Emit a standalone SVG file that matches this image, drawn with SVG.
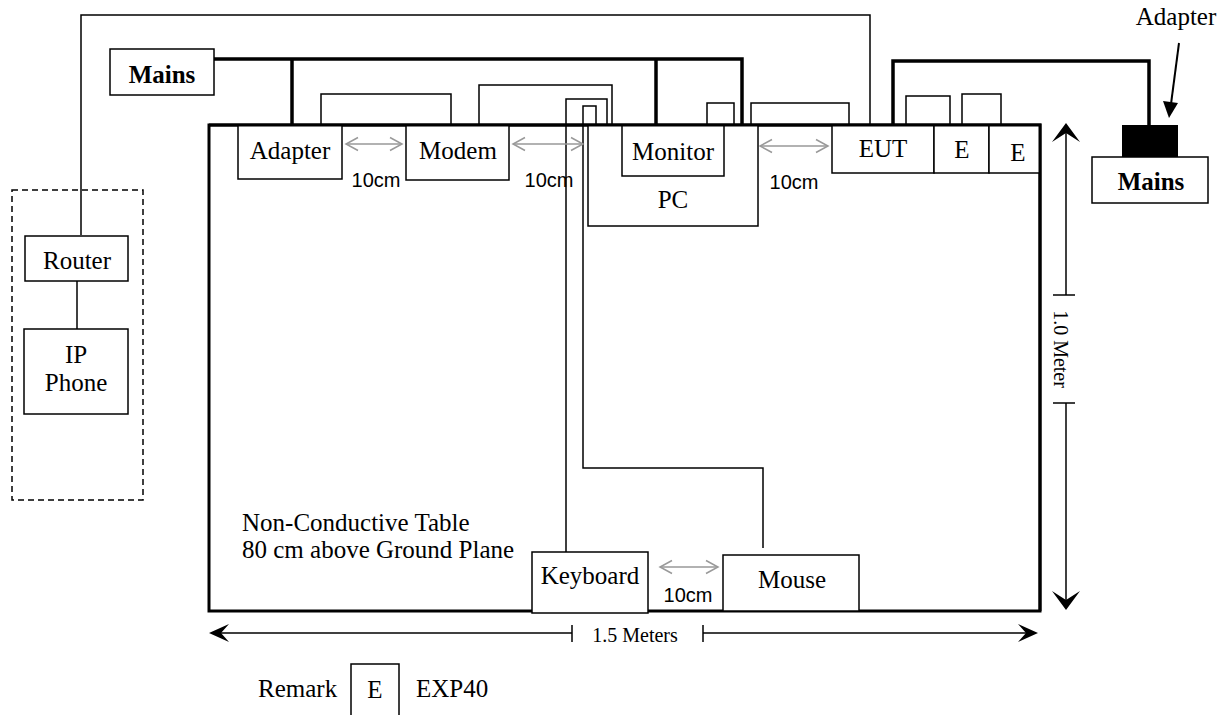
<svg xmlns="http://www.w3.org/2000/svg" width="1228" height="715" viewBox="0 0 1228 715">
<defs>
<style>
.box{fill:#fff;stroke:#000;stroke-width:1.5}
.t{font-family:"Liberation Serif","Times New Roman",serif;font-size:25px;fill:#000;text-anchor:middle}
.tb{font-family:"Liberation Serif","Times New Roman",serif;font-size:25px;font-weight:bold;fill:#000;text-anchor:middle}
.ts{font-family:"Liberation Serif","Times New Roman",serif;font-size:20px;fill:#000;text-anchor:middle}
.cm{font-family:"Liberation Sans",Arial,sans-serif;font-size:20px;fill:#000;text-anchor:middle}
.thin{fill:none;stroke:#000;stroke-width:1.5}
.thick{fill:none;stroke:#000;stroke-width:3.5}
.gray{fill:none;stroke:#999;stroke-width:1.5;marker-start:url(#ga);marker-end:url(#ga)}
</style>
<marker id="ga" viewBox="-14 -8 16 16" markerWidth="16" markerHeight="16" refX="0" refY="0" orient="auto-start-reverse" markerUnits="userSpaceOnUse">
<path d="M-12,-6.5 L0,0 L-12,6.5" fill="none" stroke="#999" stroke-width="1.5"/>
</marker>
</defs>

<g id="table">
<rect x="209" y="125" width="831" height="486" fill="#fff" stroke="#000" stroke-width="3"/>
<text class="t" x="242" y="531" style="text-anchor:start">Non-Conductive Table</text>
<text class="t" x="242" y="558" style="text-anchor:start">80 cm above Ground Plane</text>
</g>

<g id="connectors">
<polyline class="thin" points="81,235 81,15 299,15" stroke-width="2"/>
<polyline class="thin" points="299,15 870,15 870,125" stroke="#333"/>
<line class="thin" x1="77" y1="281" x2="77" y2="329"/>
<polyline class="thick" points="214,59 742,59 742,125"/>
<line class="thick" x1="292" y1="59" x2="292" y2="125"/>
<line class="thick" x1="656" y1="59" x2="656" y2="125"/>
<polyline class="thin" points="321,125 321,94 451,94 451,125"/>
<polyline class="thin" points="479,125 479,85 612,85 612,125"/>
<polyline class="thin" points="566,552 566,99 607,99 607,125"/>
<polyline class="thin" points="763,548 763,468 583,468 583,106 596,106 596,125"/>
<polyline class="thin" points="707,125 707,103 734,103 734,125"/>
<polyline class="thin" points="751,125 751,103 849,103 849,125"/>
<polyline class="thin" points="906,125 906,96 950,96 950,125"/>
<polyline class="thin" points="962,125 962,94 1001,94 1001,125"/>
<polyline class="thick" points="893,125 893,61 1149,61 1149,125"/>
<line class="gray" x1="346" y1="144" x2="402" y2="144"/>
<line class="gray" x1="513" y1="144" x2="583" y2="144"/>
<line class="gray" x1="760" y1="146" x2="828" y2="146"/>
<line class="gray" x1="660" y1="567" x2="718" y2="567"/>
<text class="cm" x="376" y="187">10cm</text>
<text class="cm" x="549" y="187">10cm</text>
<text class="cm" x="794" y="189">10cm</text>
<text class="cm" x="688" y="602">10cm</text>
<line x1="1179" y1="43" x2="1171" y2="104" stroke="#000" stroke-width="2"/>
<path d="M1169,118 L1163,101 L1178,103 Z" fill="#000"/>
</g>

<g id="dimensions">
<line x1="212" y1="633" x2="572" y2="633" stroke="#000" stroke-width="1.5"/>
<line x1="703" y1="633" x2="1034" y2="633" stroke="#000" stroke-width="1.5"/>
<line x1="572" y1="625" x2="572" y2="642" stroke="#000" stroke-width="1.5"/>
<line x1="703" y1="625" x2="703" y2="642" stroke="#000" stroke-width="1.5"/>
<path d="M209,633 L229,624 L221,633 L229,642 Z" fill="#000"/>
<path d="M1038,633 L1018,624 L1026,633 L1018,642 Z" fill="#000"/>
<text class="ts" x="635" y="642">1.5 Meters</text>
<line x1="1066" y1="128" x2="1066" y2="295" stroke="#000" stroke-width="1.5"/>
<line x1="1066" y1="403" x2="1066" y2="605" stroke="#000" stroke-width="1.5"/>
<line x1="1053" y1="295" x2="1075" y2="295" stroke="#000" stroke-width="1.5"/>
<line x1="1053" y1="403" x2="1075" y2="403" stroke="#000" stroke-width="1.5"/>
<path d="M1066,123 L1052,142 L1066,133 L1080,142 Z" fill="#000"/>
<path d="M1066,610 L1052,591 L1066,600 L1080,591 Z" fill="#000"/>
<text class="ts" transform="translate(1054,349) rotate(90)">1.0 Meter</text>
</g>

<g id="mains-left"><rect class="box" x="110" y="49" width="104" height="46"/><text class="tb" x="162" y="83">Mains</text></g>
<g id="adapter"><rect class="box" x="238" y="125" width="104" height="54"/><text class="t" x="290" y="159">Adapter</text></g>
<g id="modem"><rect class="box" x="406" y="125" width="103" height="55"/><text class="t" x="458" y="159">Modem</text></g>
<g id="pc"><rect class="box" x="588" y="125" width="170" height="101"/><text class="t" x="673" y="208">PC</text></g>
<g id="monitor"><rect class="box" x="622" y="125" width="102" height="51"/><text class="t" x="673" y="160">Monitor</text></g>
<g id="eut"><rect class="box" x="832" y="125" width="102" height="48"/><text class="t" x="883" y="157">EUT</text></g>
<g id="e1"><rect class="box" x="934" y="125" width="55" height="48"/><text class="t" x="962" y="158">E</text></g>
<g id="e2"><rect class="box" x="989" y="125" width="51" height="48"/><text class="t" x="1018" y="161">E</text></g>
<g id="table-edge"><path d="M209,125 H1040 V611" fill="none" stroke="#000" stroke-width="3"/></g>
<g id="adapter-right"><rect x="1122" y="125" width="56" height="32" fill="#000"/><text class="t" x="1176" y="25">Adapter</text></g>
<g id="mains-right"><rect class="box" x="1092" y="157" width="116" height="46"/><text class="tb" x="1151" y="190">Mains</text></g>
<g id="group-box"><rect x="12" y="190" width="131" height="310" fill="none" stroke="#000" stroke-width="1.5" stroke-dasharray="6,4"/></g>
<g id="router"><rect class="box" x="25" y="236" width="103" height="45"/><text class="t" x="77" y="269">Router</text></g>
<g id="ipphone"><rect class="box" x="24" y="329" width="104" height="85"/><text class="t" x="76" y="363">IP</text><text class="t" x="76" y="391">Phone</text></g>
<g id="keyboard"><rect class="box" x="532" y="552" width="116" height="61"/><text class="t" x="590" y="584">Keyboard</text></g>
<g id="mouse"><rect class="box" x="723" y="555" width="136" height="56"/><text class="t" x="792" y="588">Mouse</text></g>
<g id="remark">
<text class="t" x="258" y="697" style="text-anchor:start">Remark</text>
<rect class="box" x="351" y="664" width="48" height="60"/>
<text class="t" x="375" y="698">E</text>
<text class="t" x="416" y="697" style="text-anchor:start">EXP40</text>
</g>
</svg>
